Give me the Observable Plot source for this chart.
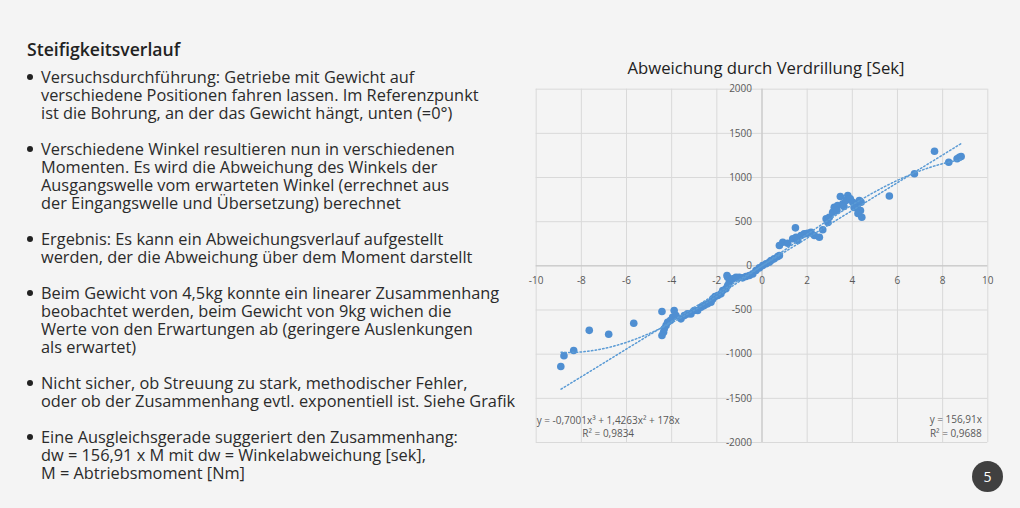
<!DOCTYPE html>
<html><head><meta charset="utf-8">
<script src="https://cdn.jsdelivr.net/npm/d3@7"></script>
<script src="https://cdn.jsdelivr.net/npm/@observablehq/plot@0.6"></script>
<style>
html,body{margin:0;padding:0;background:#f4f4f4;width:1020px;height:508px;overflow:hidden;font-family:"Open Sans",sans-serif;color:#2b2b2b}
#heading{position:absolute;left:27px;top:39px;font-size:17.6px;font-weight:600;line-height:20px;color:#222}
#bullets{position:absolute;left:41px;top:68px;font-size:16.35px;line-height:18px;margin:0;padding:0;list-style:none;white-space:nowrap}
#bullets li{position:relative;margin:0 0 18px 0}
#bullets li .b{position:absolute;left:-14px;top:6px;width:6px;height:6px;border-radius:50%;background:#222}
#ctitle{position:absolute;left:530px;top:57px;width:472px;text-align:center;font-size:16.7px;line-height:22px;color:#222}
#chart{position:absolute;left:525px;top:78px}
#page{position:absolute;left:972px;top:461px;width:31px;height:31px;border-radius:50%;background:#404040;color:#fff;font-size:14px;line-height:31px;text-align:center}
</style>
</head><body>
<div id="heading">Steifigkeitsverlauf</div>
<ul id="bullets">
<li><span class="b"></span>Versuchsdurchführung: Getriebe mit Gewicht auf<br>verschiedene Positionen fahren lassen. Im Referenzpunkt<br>ist die Bohrung, an der das Gewicht hängt, unten (=0°)</li>
<li><span class="b"></span>Verschiedene Winkel resultieren nun in verschiedenen<br>Momenten. Es wird die Abweichung des Winkels der<br>Ausgangswelle vom erwarteten Winkel (errechnet aus<br>der Eingangswelle und Übersetzung) berechnet</li>
<li><span class="b"></span>Ergebnis: Es kann ein Abweichungsverlauf aufgestellt<br>werden, der die Abweichung über dem Moment darstellt</li>
<li><span class="b"></span>Beim Gewicht von 4,5kg konnte ein linearer Zusammenhang<br>beobachtet werden, beim Gewicht von 9kg wichen die<br>Werte von den Erwartungen ab (geringere Auslenkungen<br>als erwartet)</li>
<li><span class="b"></span>Nicht sicher, ob Streuung zu stark, methodischer Fehler,<br>oder ob der Zusammenhang evtl. exponentiell ist. Siehe Grafik</li>
<li><span class="b"></span>Eine Ausgleichsgerade suggeriert den Zusammenhang:<br>dw = 156,91 x M mit dw = Winkelabweichung [sek],<br>M = Abtriebsmoment [Nm]</li>
</ul>
<div id="ctitle">Abweichung durch Verdrillung [Sek]</div>
<div id="chart"></div>
<div id="page">5</div>
<script>
const xTicks = [-10,-8,-6,-4,-2,0,2,4,6,8,10];
const yTicks = [-2000,-1500,-1000,-500,0,500,1000,1500,2000];
const momentX = [-8.91,-8.77,-8.34,-7.65,-6.79,-5.68,-4.43,-3.89,
 -4.43,-4.36,-4.33,-4.25,-4.18,-4.06,-3.96,-3.81,-3.59,-3.44,-3.30,-3.15,-3.00,-2.85,-2.70,-2.56,-2.41,-2.26,-2.18,-2.08,-1.96,-1.82,-1.74,-1.60,-1.52,-1.45,-1.40,-1.52,-1.55,-1.30,-1.15,-1.01,-0.86,-0.71,-0.56,-0.41,-0.27,-0.12,0.03,0.18,0.32,
 0.40,0.54,0.70,0.77,
 0.77,0.92,1.14,1.36,1.51,1.48,1.58,1.73,1.87,2.02,2.17,2.32,2.54,2.69,2.84,2.98,3.13,3.20,3.35,3.47,3.58,3.72,3.80,3.91,4.02,4.17,4.24,4.31,4.39,4.36,4.42,
 2.92,3.32,3.63,4.08,4.25,
 5.64,6.75,7.64,8.27,8.64,8.74,8.82];
const abweichungY = [-1140,-1017,-959,-730,-775,-650,-517,-506,
 -789,-752,-713,-676,-639,-619,-582,-563,-600,-563,-544,-544,-506,-506,-469,-450,-430,-412,-374,-348,-336,-317,-280,-260,-223,-186,-159,-129,-110,-147,-129,-129,-136,-121,-110,-91,-53,-23,3,23,41,
 60,79,105,117,
 230,267,256,306,324,430,287,343,362,369,380,343,324,408,532,550,607,664,683,785,702,740,796,759,720,683,646,740,720,626,550,
 490,626,672,660,592,
 790,1042,1298,1173,1212,1230,1238];
// trendline equations as displayed in the chart
const polyCoef = [0, 178, 1.4263, -0.7001];
const linSlope = 156.91;
const trendRange = [-8.9, 8.85];
const polyLabel = ["y = -0,7001x³ + 1,4263x² + 178x", "R² = 0,9834"];
const linLabel = ["y = 156,91x", "R² = 0,9688"];

const points = momentX.map((x,i)=>({x, y: abweichungY[i]}));
const xs = d3.range(trendRange[0], trendRange[1]+1e-9, 0.05);
const linData = xs.map(x=>({x, y: linSlope*x}));
const polyData = xs.map(x=>({x, y: polyCoef.reduce((s,c,k)=>s+c*Math.pow(x,k),0)}));

const blue = "#5b9bd5";
const chart = Plot.plot({
  width: 470, height: 375,
  marginLeft: 10.7, marginRight: 7.7, marginTop: 10.7, marginBottom: 11,
  x: {domain: [-10, 10], axis: null},
  y: {domain: [-2000, 2000], axis: null},
  style: {background: "transparent", fontFamily: "Open Sans", fontSize: "10px", color: "#595959", overflow: "visible"},
  marks: [
    Plot.ruleX(xTicks, {x: d=>d, stroke: "#d9d9d9", strokeOpacity: 1}),
    Plot.ruleY(yTicks, {y: d=>d, stroke: "#d9d9d9", strokeOpacity: 1}),
    Plot.ruleX([0], {x: d=>d, stroke: "#c4c4c4"}),
    Plot.ruleY([0], {y: d=>d, stroke: "#c4c4c4"}),
    Plot.text(xTicks, {x: d=>d, y: 0, dy: 15, text: d=>String(d), fill: "#595959"}),
    Plot.text(yTicks, {x: 0, y: d=>d, dx: -10, textAnchor: "end", text: d=>String(d), fill: "#595959"}),
    Plot.dot(points, {x: "x", y: "y", r: 3.8, fill: "#4f8fd2", stroke: "none"}),
    Plot.line(linData, {x: "x", y: "y", stroke: blue, strokeWidth: 1.5, strokeDasharray: "1.5,2.3"}),
    Plot.line(polyData, {x: "x", y: "y", stroke: blue, strokeWidth: 1.5, strokeDasharray: "1.5,2.3"}),
    Plot.text([polyLabel[0]], {frameAnchor: "bottom-left", dx: 72, dy: -22, text: d=>d, textAnchor: "middle", lineAnchor: "middle", fill: "#595959", fontSize: 10}),
    Plot.text([polyLabel[1]], {frameAnchor: "bottom-left", dx: 72, dy: -9, text: d=>d, textAnchor: "middle", lineAnchor: "middle", fill: "#595959", fontSize: 10}),
    Plot.text([linLabel[0]], {frameAnchor: "bottom-right", dx: -32, dy: -23, text: d=>d, textAnchor: "middle", lineAnchor: "middle", fill: "#595959", fontSize: 10}),
    Plot.text([linLabel[1]], {frameAnchor: "bottom-right", dx: -32, dy: -9, text: d=>d, textAnchor: "middle", lineAnchor: "middle", fill: "#595959", fontSize: 10})
  ]
});
document.getElementById("chart").appendChild(chart);
</script>
</body></html>
